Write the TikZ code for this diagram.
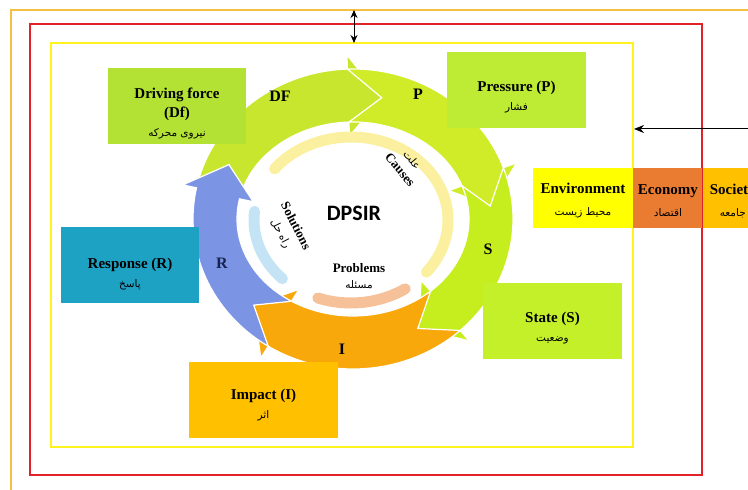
\documentclass[tikz,border=0pt]{standalone}
\usepackage{fontspec}
\usepackage{xcolor}
\usepackage{tikz}
\usetikzlibrary{arrows.meta,positioning,calc}
\setmainfont{Liberation Serif}
\newfontfamily\farsi[Script=Arabic]{DejaVu Sans}
\newfontfamily\titlefont{Carlito}
\TeXXeTstate=1

\definecolor{frameorange}{RGB}{245,192,65}
\definecolor{framered}{RGB}{228,32,40}
\definecolor{frameyellow}{RGB}{255,243,30}
\definecolor{limedf}{RGB}{200,230,45}
\definecolor{limep}{RGB}{208,236,40}
\definecolor{limes}{RGB}{198,238,30}
\definecolor{orangei}{RGB}{249,168,12}
\definecolor{bluer}{RGB}{124,148,228}
\definecolor{drvfill}{RGB}{180,226,52}
\definecolor{prsfill}{RGB}{190,236,52}
\definecolor{stafill}{RGB}{196,240,42}
\definecolor{impfill}{RGB}{255,192,0}
\definecolor{rspfill}{RGB}{30,162,196}
\definecolor{envfill}{RGB}{255,255,0}
\definecolor{ecofill}{RGB}{234,124,50}
\definecolor{socfill}{RGB}{255,192,0}
\definecolor{paleyel}{RGB}{250,240,160}
\definecolor{paleblue}{RGB}{196,228,246}
\definecolor{palepeach}{RGB}{246,192,152}

\newcommand{\fatext}[1]{{\farsi\mdseries\fontsize{10.5}{12}\selectfont\beginR #1\endR}}

% one arrow of the cycle: tail angle, head angle, colour
\newcommand{\ringseg}[3]{%
  \fill[#3, draw=white, line width=1.2pt]
    (#1:160 and 150) arc[start angle=#1, end angle=#2, x radius=160, y radius=150]
    -- (#2:174 and 164) -- ({#2-14}:138 and 124) -- (#2:102 and 83)
    -- (#2:116 and 97) arc[start angle=#2, end angle=#1, x radius=116, y radius=97]
    -- ({#1-14}:138 and 124) -- cycle;}

\tikzset{
  box/.style={rectangle, inner sep=0pt, minimum width=138pt, minimum height=76pt},
  boxtxt/.style={align=center, font=\bfseries\fontsize{15}{19}\selectfont},
  sidebox/.style={rectangle, inner sep=0pt, minimum height=60pt, align=center,
    font=\bfseries\fontsize{15}{22}\selectfont},
  ringlbl/.style={font=\bfseries\fontsize{16}{18}\selectfont},
  inlbl/.style={align=center, font=\bfseries\fontsize{13}{16}\selectfont},
  pale/.style={line width=11pt, line cap=round},
}

\begin{document}
\begin{tikzpicture}[x=1pt, y=1pt]
\useasboundingbox (0,0) rectangle (748,490);
\clip (0,0) rectangle (748,490);

% frames
\draw[frameorange, line width=2pt] (11,-10) rectangle (770,480);
\draw[framered, line width=2pt] (30,15) rectangle (702,466);
\draw[frameyellow, line width=2pt] (51,43) rectangle (633,447);

% the cycle
\begin{scope}[shift={(353,271)}]
  \ringseg{168}{92}{limedf}
  \ringseg{92}{20}{limep}
  \ringseg{20}{-48}{limes}
  \ringseg{-48}{-122}{orangei}
  \ringseg{-122}{-192}{bluer}
\end{scope}
\begin{scope}[shift={(351,270)}]
  \draw[paleyel, pale] (142:97 and 83) arc[start angle=142, end angle=-39, x radius=97, y radius=83];
  \draw[paleblue, pale] (174:97 and 83) arc[start angle=174, end angle=225, x radius=97, y radius=83];
  \draw[palepeach, pale] (250:97 and 83) arc[start angle=250, end angle=304, x radius=97, y radius=83];
\end{scope}

\node[ringlbl] (lblDF) at (280,394) {DF};
\node[ringlbl] (lblP) at (418,396) {P};
\node[ringlbl] (lblS) at (488,241) {S};
\node[ringlbl] (lblI) at (342,141) {I};
\node[ringlbl, text={rgb,255:red,25;green,35;blue,80}] (lblR) at (222,227) {R};

\node[font=\titlefont\bfseries\fontsize{22}{24}\selectfont] (dpsir) at (354,277) {DPSIR};
\node[inlbl, rotate=-50] (causes) at (406,325) {\fatext{علت}\\Causes};
\node[inlbl, rotate=-63] (solutions) at (288,260) {Solutions\\\fatext{راه حل}};
\node[inlbl] (problems) at (359,214) {Problems\\\fatext{مسئله}};

% boxes round the cycle
\node[box, fill=drvfill] (drv) at (177,384) {};
\node[boxtxt] at ([yshift=-8]drv.center) {Driving force\\(Df)\\\fatext{نیروی محرکه}};
\node[box, fill=prsfill, minimum width=139pt] (prs) at (516.5,400) {};
\node[boxtxt] at ([yshift=-7]prs.center) {Pressure (P)\\\fatext{فشار}};
\node[box, fill=stafill, minimum width=139pt] (sta) at (552.5,168.5) {};
\node[boxtxt] at ([yshift=-7]sta.center) {State (S)\\\fatext{وضعیت}};
\node[box, fill=impfill, minimum width=149pt] (imp) at (263.5,90) {};
\node[boxtxt] at ([yshift=-5]imp.center) {Impact (I)\\\fatext{اثر}};
\node[box, fill=rspfill] (rsp) at (130,224.5) {};
\node[boxtxt] at ([yshift=-9]rsp.center) {Response (R)\\\fatext{پاسخ}};

% outer spheres
\node[sidebox, fill=envfill, minimum width=100pt] (env) at (583,292) {};
\node[sidebox, fill=ecofill, minimum width=69pt, right=0pt of env] (eco) {};
\node[sidebox, fill=socfill, minimum width=60pt, right=0pt of eco] (soc) {};
\node[sidebox, minimum height=0pt] at ([yshift=-3]env.center) {Environment\\\fatext{محیط زیست}};
\node[sidebox, minimum height=0pt] at ([yshift=-3]eco.center) {Economy\\\fatext{اقتصاد}};
\node[sidebox, minimum height=0pt] at ([yshift=-3]soc.center) {Society\\\fatext{جامعه}};

% arrows between frames
\coordinate (gapT) at (354,480);
\coordinate (gapB) at (354,447);
\draw[line width=1pt, {Stealth[length=8pt,width=7pt]}-{Stealth[length=8pt,width=7pt]}] (gapT) -- (gapB);
\coordinate (sideR) at (748,361);
\coordinate (sideL) at (634,361);
\draw[line width=1pt, -{Stealth[length=10pt,width=8pt]}] (sideR) -- (sideL);
\end{tikzpicture}
\end{document}
